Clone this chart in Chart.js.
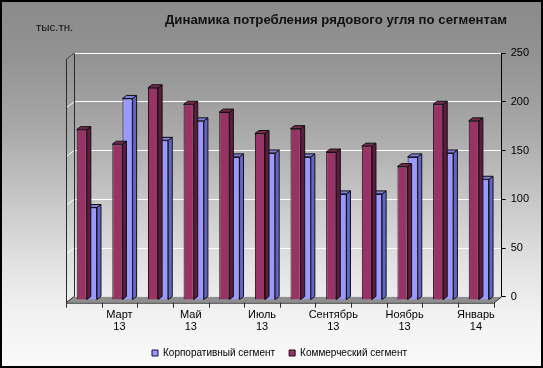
<!DOCTYPE html>
<html><head><meta charset="utf-8">
<script src="https://cdn.jsdelivr.net/npm/chart.js@4/dist/chart.umd.min.js"></script>
<style>html,body{margin:0;padding:0;background:#fff}#wrap{width:543px;height:368px}</style>
</head><body><div id="wrap"><canvas id="c" width="543" height="368"></canvas></div>
<script>
const months = ['Февраль','Март','Апрель','Май','Июнь','Июль','Август','Сентябрь','Октябрь','Ноябрь','Декабрь','Январь'];
const years = ['13','13','13','13','13','13','13','13','13','13','13','14'];
const commercial = [175,160,218,201,193,171,176,152,158,137,201,184];
const corporate = [95,207,164,184,147,151,147,109,109,147,151,124];
const yTicks = [0,50,100,150,200,250];
const seriesNames = ['Коммерческий сегмент','Корпоративный сегмент'];
const titleText = 'Динамика потребления рядового угля по сегментам';
const unitText = 'тыс.тн.';

const FONT = '"Liberation Sans", Arial, sans-serif';
const DEPTH = {dx: 8, dy: 6};      // wall depth (back -> front)
const BAR_SHIFT = {dx: -5, dy: 3.3};
const CAP = {dx: 4, dy: 3};
const sideColors = [{side:'#5f1b3d', top:'#7a2950'}, {side:'#6464c8', top:'#8080e0'}];

const threeD = {
  id: 'threeD',
  beforeDraw(chart) {
    const ctx = chart.ctx, W = chart.width, H = chart.height;
    const g = ctx.createLinearGradient(0, 0, 0, H);
    g.addColorStop(0, '#8a8a8a');
    g.addColorStop(0.15, '#929292');
    g.addColorStop(0.35, '#a8a8a8');
    g.addColorStop(0.55, '#c8c8c8');
    g.addColorStop(0.72, '#e2e2e2');
    g.addColorStop(0.85, '#f1f1f1');
    g.addColorStop(1, '#fafafa');
    ctx.save();
    ctx.fillStyle = g;
    ctx.fillRect(0, 0, W, H);
    ctx.restore();
  },
  beforeDatasetsDraw(chart) {
    const ctx = chart.ctx, a = chart.chartArea, ys = chart.scales.y;
    const fl = a.left - DEPTH.dx, fr = a.right - DEPTH.dx, fb = a.bottom + DEPTH.dy;
    ctx.save();
    // floor
    ctx.beginPath();
    ctx.moveTo(a.left, a.bottom); ctx.lineTo(a.right, a.bottom);
    ctx.lineTo(fr, fb); ctx.lineTo(fl, fb); ctx.closePath();
    ctx.fillStyle = '#8f8f8f'; ctx.fill();
    // left wall gridlines
    ctx.strokeStyle = '#ffffff'; ctx.lineWidth = 1;
    ys.ticks.forEach(t => {
      const py = ys.getPixelForValue(t.value);
      if (t.value === 0) return;
      ctx.beginPath(); ctx.moveTo(a.left, py); ctx.lineTo(fl, py + DEPTH.dy); ctx.stroke();
    });
    // wall edges
    ctx.strokeStyle = '#2a2a2a';
    ctx.beginPath();
    ctx.moveTo(a.left + 0.5, a.top); ctx.lineTo(a.left + 0.5, a.bottom);
    ctx.moveTo(fl + 0.5, a.top + DEPTH.dy); ctx.lineTo(fl + 0.5, fb);
    ctx.moveTo(fl, a.top + DEPTH.dy); ctx.lineTo(a.left, a.top);
    ctx.moveTo(fl, a.bottom + DEPTH.dy); ctx.lineTo(a.left, a.bottom);
    ctx.stroke();
    ctx.restore();
    ctx.save();
    ctx.translate(BAR_SHIFT.dx, BAR_SHIFT.dy);
  },
  afterDatasetDraw(chart, args) {
    const ctx = chart.ctx;
    const meta = args.meta;
    const col = sideColors[args.index];
    meta.data.forEach(el => {
      const p = el.getProps(['x', 'y', 'base', 'width'], true);
      const l = p.x - p.width / 2, r = p.x + p.width / 2;
      const top = Math.min(p.y, p.base), bot = Math.max(p.y, p.base);
      ctx.save();
      ctx.lineWidth = 1; ctx.strokeStyle = '#111';
      ctx.beginPath();
      ctx.moveTo(r, top); ctx.lineTo(r + CAP.dx, top - CAP.dy);
      ctx.lineTo(r + CAP.dx, bot - CAP.dy); ctx.lineTo(r, bot); ctx.closePath();
      ctx.fillStyle = col.side; ctx.fill(); ctx.stroke();
      ctx.beginPath();
      ctx.moveTo(l, top); ctx.lineTo(l + CAP.dx, top - CAP.dy);
      ctx.lineTo(r + CAP.dx, top - CAP.dy); ctx.lineTo(r, top); ctx.closePath();
      ctx.fillStyle = col.top; ctx.fill(); ctx.stroke();
      ctx.restore();
    });
  },
  afterDatasetsDraw(chart) {
    const ctx = chart.ctx, a = chart.chartArea, xs = chart.scales.x;
    ctx.restore();
    const fl = a.left - DEPTH.dx, fr = a.right - DEPTH.dx, fb = a.bottom + DEPTH.dy;
    ctx.save();
    ctx.strokeStyle = '#2a2a2a'; ctx.lineWidth = 1;
    ctx.beginPath();
    ctx.moveTo(fl, fb + 0.5); ctx.lineTo(fr, fb + 0.5); ctx.lineTo(a.right, a.bottom);
    const n = xs.ticks.length, step = xs.width / n;
    for (let i = 0; i <= n; i++) {
      const x = Math.round(xs.left + i * step - DEPTH.dx) + 0.5;
      ctx.moveTo(x, fb); ctx.lineTo(x, fb + 5);
    }
    ctx.stroke();
    ctx.restore();
  },
  afterDraw(chart) {
    const ctx = chart.ctx;
    ctx.save();
    ctx.fillStyle = '#111';
    ctx.font = 'bold 13.2px ' + FONT;
    ctx.textAlign = 'center'; ctx.textBaseline = 'middle';
    ctx.fillText(titleText, 336, 20);
    ctx.font = '11.5px ' + FONT;
    ctx.textAlign = 'left';
    ctx.fillText(unitText, 36, 28);
    ctx.strokeStyle = '#000'; ctx.lineWidth = 2;
    ctx.strokeRect(1, 1, chart.width - 2, chart.height - 2);
    ctx.restore();
  }
};

new Chart(document.getElementById('c'), {
  type: 'bar',
  data: {
    labels: months,
    datasets: [
      {label: seriesNames[0], data: commercial, backgroundColor: '#993366', borderColor: '#1a0a12', borderWidth: 1,
       barPercentage: 1, categoryPercentage: 0.57, yAxisID: 'y'},
      {label: seriesNames[1], data: corporate, backgroundColor: '#9999ff', borderColor: '#16163a', borderWidth: 1,
       barPercentage: 1, categoryPercentage: 0.57, yAxisID: 'y'}
    ]
  },
  options: {
    responsive: false,
    animation: false,
    devicePixelRatio: 1,
    layout: {padding: {left: 16, right: 0, top: 53.3, bottom: 0}},
    plugins: {
      title: {display: false},
      tooltip: {enabled: false},
      legend: {
        position: 'bottom', reverse: true,
        labels: {boxWidth: 6, boxHeight: 6, padding: 14, color: '#000', font: {family: FONT, size: 10}}
      }
    },
    scales: {
      x: {
        grid: {display: false, drawTicks: false},
        border: {display: false},
        ticks: {
          autoSkip: false, maxRotation: 0, minRotation: 0, color: '#000', padding: 12, labelOffset: -8,
          font: {family: FONT, size: 11, lineHeight: 1.1},
          callback: (v, i) => (i % 2 === 1 ? [months[i], years[i]] : '')
        },
        afterFit: s => { s.height = 37.3; }
      },
      yL: {
        type: 'linear', position: 'left', display: true,
        grid: {display: false}, border: {display: false}, ticks: {display: false},
        afterFit: s => { s.width = 58; }
      },
      y: {
        position: 'right', min: 0, max: 250,
        afterBuildTicks: s => { s.ticks = yTicks.map(v => ({value: v})); },
        grid: {color: '#ffffff', lineWidth: 1, tickColor: '#000', tickLength: 4},
        border: {color: '#000', width: 1},
        ticks: {color: '#000', padding: 5, font: {family: FONT, size: 11}},
        afterFit: s => { s.width = 41.3; }
      }
    }
  },
  plugins: [threeD]
});
</script>
</body></html>
